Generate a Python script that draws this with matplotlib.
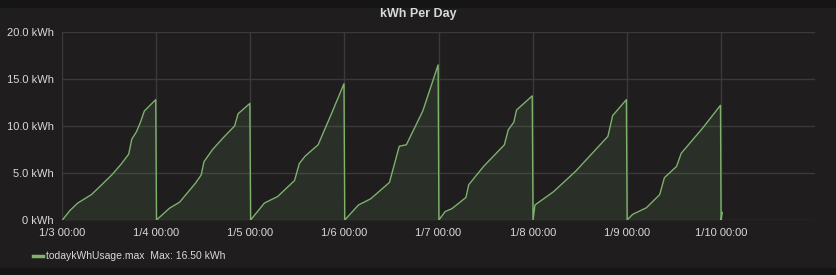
import datetime as dt
import matplotlib
matplotlib.use("Agg")
from matplotlib import pyplot as plt
import matplotlib.dates as mdates
from matplotlib.lines import Line2D
from matplotlib.patches import Rectangle
import numpy as np

# Daily cumulative usage, hours after midnight and kWh
DAY_STARTS = ["2018-01-03", "2018-01-04", "2018-01-05", "2018-01-06",
              "2018-01-07", "2018-01-08", "2018-01-09", "2018-01-10"]
HOURS = [
    [0.1, 2, 4, 7.5, 10, 12.7, 15, 17, 17.8, 19, 20, 21, 23.9],
    [0.1, 3.4, 6, 10, 11.5, 12.2, 14.4, 17, 20, 20.9, 23.9],
    [0.1, 3.6, 7, 11.3, 12.5, 14, 17.3, 20.6, 23.9],
    [0.1, 3.6, 6.7, 11.5, 14, 15.8, 20, 23.9],
    [0.1, 1.7, 3.4, 7, 7.7, 11.5, 16.8, 17.8, 19.2, 19.9, 23.9],
    [0.1, 0.6, 5.3, 11, 19.2, 20.4, 23.9],
    [0.1, 1.5, 5, 8.4, 9.6, 12.7, 13.9, 19.4, 23.9],
    [0.05, 0.35],
]
KWH = [
    [0, 1.0, 1.8, 2.7, 3.7, 4.8, 5.9, 7.0, 8.6, 9.4, 10.4, 11.6, 12.8],
    [0, 1.25, 1.9, 3.9, 4.8, 6.2, 7.5, 8.7, 10.0, 11.3, 12.4],
    [0, 1.8, 2.5, 4.2, 6.0, 6.8, 8.0, 11.2, 14.5],
    [0, 1.6, 2.25, 4.0, 7.85, 8.0, 11.6, 16.5],
    [0, 0.9, 1.2, 2.4, 3.75, 5.7, 8.0, 9.6, 10.4, 11.7, 13.2],
    [0, 1.6, 3.0, 5.2, 8.9, 11.1, 12.8],
    [0, 0.6, 1.3, 2.7, 4.5, 5.7, 7.1, 9.8, 12.2],
    [0.0, 0.8],
]
TICK_LABELS = ["1/3 00:00", "1/4 00:00", "1/5 00:00", "1/6 00:00",
               "1/7 00:00", "1/8 00:00", "1/9 00:00", "1/10 00:00"]
Y_TICKS = [0, 5, 10, 15, 20]
Y_LABELS = ["0 kWh", "5.0 kWh", "10.0 kWh", "15.0 kWh", "20.0 kWh"]
SERIES_NAME = "todaykWhUsage.max"

BG = "#1f1d1e"
OUTER = "#151515"
GREEN = "#7eb26d"
TEXT = "#d8d9da"
GRID = "#3a3a3a"

plt.rcParams["font.family"] = ["Liberation Sans", "DejaVu Sans"]

# build the time series
times = []
values = []
for start, hrs, kwh in zip(DAY_STARTS, HOURS, KWH):
    base = mdates.date2num(dt.datetime.fromisoformat(start))
    times.extend(base + np.array(hrs) / 24.0)
    values.extend(kwh)
times = np.array(times)
values = np.array(values)

fig = plt.figure(figsize=(8.36, 2.75), dpi=100, facecolor=BG)
# darker strips above and below the panel
fig.patches.append(Rectangle((0, 0.975), 1, 0.025, transform=fig.transFigure, color=OUTER, zorder=-1))
fig.patches.append(Rectangle((0, 0), 1, 0.025, transform=fig.transFigure, color=OUTER, zorder=-1))

ax = fig.add_axes([62 / 836, 1 - 220 / 275, (815 - 62) / 836, (220 - 32) / 275])
ax.set_facecolor(BG)

ax.fill_between(times, values, 0, color=GREEN, alpha=0.12, linewidth=0)
ax.plot(times, values, color=GREEN, linewidth=1.0)

day_nums = [mdates.date2num(dt.datetime.fromisoformat(d)) for d in DAY_STARTS]
ax.set_xlim(day_nums[0], day_nums[0] + 8)
ax.set_ylim(0, 20)
ax.set_xticks(day_nums)
ax.set_xticklabels(TICK_LABELS)
ax.set_yticks(Y_TICKS)
ax.set_yticklabels(Y_LABELS)

ax.grid(True, color=GRID, linewidth=1.0)
ax.set_axisbelow(True)
for s in ax.spines.values():
    s.set_visible(False)
ax.tick_params(colors=TEXT, labelsize=8, length=0, pad=6)
for lbl in ax.get_xticklabels() + ax.get_yticklabels():
    lbl.set_color(TEXT)

fig.text(0.5, 1 - 14 / 275, "kWh Per Day", ha="center", va="center",
         color=TEXT, fontsize=9, fontweight="bold")

# legend drawn by hand, Grafana style
fig.add_artist(Line2D([33 / 836, 43 / 836], [1 - 256 / 275] * 2, color=GREEN,
                      linewidth=2.5, transform=fig.transFigure))
fig.text(46 / 836, 1 - 256 / 275,
         "{}  Max: {:.2f} kWh".format(SERIES_NAME, values.max()),
         ha="left", va="center", color=TEXT, fontsize=7.5)

fig.savefig("out.png", dpi=100, facecolor=BG)
